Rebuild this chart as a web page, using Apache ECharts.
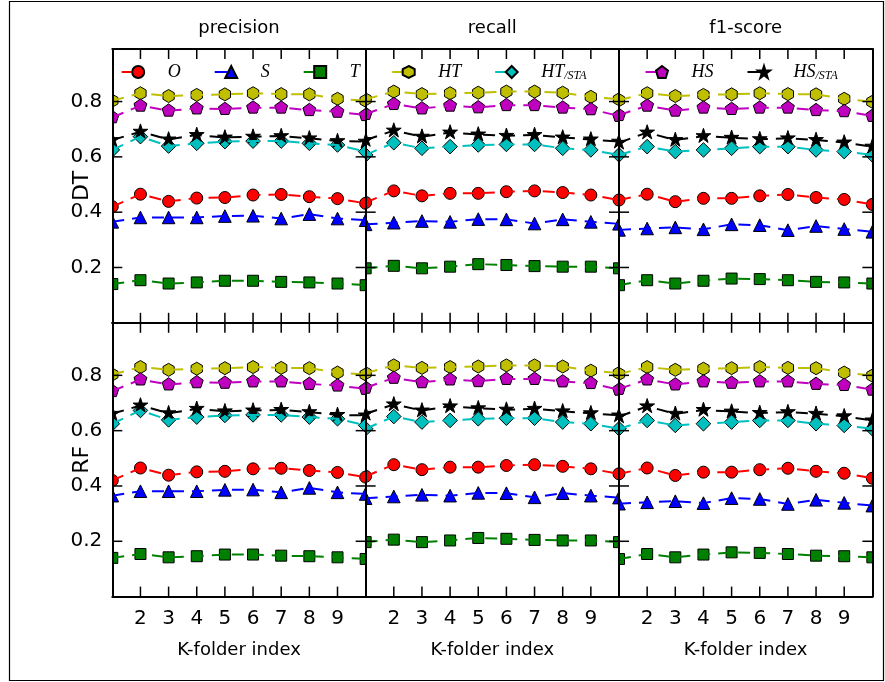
<!DOCTYPE html>
<html>
<head>
<meta charset="utf-8">
<script src="https://cdn.jsdelivr.net/npm/echarts@6/dist/echarts.min.js"></script>
<style>
  html, body { margin: 0; padding: 0; background: #fff; }
  #chart { width: 885px; height: 682px; }
</style>
</head>
<body>
<div id="chart"></div>
<script>
// ---- data ---------------------------------------------------------------
const folds = [1, 2, 3, 4, 5, 6, 7, 8, 9, 10];
const xTickLabels = [2, 3, 4, 5, 6, 7, 8, 9];
const yTickLabels = [0.2, 0.4, 0.6, 0.8];
const metrics = ['precision', 'recall', 'f1-score'];
const classifiers = ['DT', 'RF'];
const seriesNames = ['O', 'S', 'T', 'HT', 'HT/STA', 'HS', 'HS/STA'];

// precision per fold
const precisionO     = [0.420, 0.465, 0.439, 0.451, 0.453, 0.462, 0.464, 0.456, 0.449, 0.432];
const precisionS     = [0.365, 0.381, 0.381, 0.381, 0.386, 0.387, 0.377, 0.393, 0.377, 0.371];
const precisionT     = [0.140, 0.154, 0.142, 0.146, 0.152, 0.152, 0.148, 0.146, 0.142, 0.136];
const precisionHT    = [0.803, 0.830, 0.820, 0.824, 0.826, 0.830, 0.827, 0.826, 0.810, 0.803];
const precisionHTSTA = [0.625, 0.673, 0.639, 0.649, 0.655, 0.657, 0.657, 0.649, 0.643, 0.619];
const precisionHS    = [0.743, 0.785, 0.767, 0.775, 0.773, 0.778, 0.778, 0.769, 0.763, 0.751];
const precisionHSSTA = [0.661, 0.691, 0.663, 0.679, 0.670, 0.673, 0.675, 0.667, 0.657, 0.655];

// recall per fold
const recallO     = [0.435, 0.477, 0.459, 0.468, 0.468, 0.474, 0.477, 0.471, 0.462, 0.444];
const recallS     = [0.356, 0.362, 0.368, 0.365, 0.375, 0.374, 0.359, 0.374, 0.365, 0.358];
const recallT     = [0.197, 0.206, 0.197, 0.203, 0.212, 0.209, 0.205, 0.203, 0.203, 0.197];
const recallHT    = [0.808, 0.836, 0.827, 0.830, 0.832, 0.836, 0.836, 0.832, 0.817, 0.808];
const recallHTSTA = [0.607, 0.651, 0.631, 0.637, 0.643, 0.645, 0.645, 0.631, 0.625, 0.607];
const recallHS    = [0.755, 0.791, 0.775, 0.785, 0.779, 0.787, 0.787, 0.778, 0.772, 0.748];
const recallHSSTA = [0.661, 0.695, 0.673, 0.688, 0.681, 0.676, 0.679, 0.670, 0.663, 0.655];

// f1-score per fold
const f1O     = [0.444, 0.465, 0.438, 0.450, 0.450, 0.459, 0.464, 0.453, 0.446, 0.428];
const f1S     = [0.336, 0.341, 0.345, 0.338, 0.356, 0.353, 0.335, 0.350, 0.339, 0.329];
const f1T     = [0.136, 0.154, 0.142, 0.152, 0.160, 0.158, 0.154, 0.148, 0.146, 0.142];
const f1HT    = [0.805, 0.830, 0.820, 0.824, 0.826, 0.830, 0.827, 0.826, 0.810, 0.799];
const f1HTSTA = [0.607, 0.637, 0.619, 0.625, 0.631, 0.637, 0.637, 0.625, 0.619, 0.607];
const f1HS    = [0.751, 0.785, 0.767, 0.778, 0.773, 0.778, 0.778, 0.769, 0.765, 0.748];
const f1HSSTA = [0.651, 0.688, 0.661, 0.675, 0.669, 0.664, 0.667, 0.661, 0.652, 0.637];

// both classifiers produced the same scores
const scores = {
  precision: [precisionO, precisionS, precisionT, precisionHT, precisionHTSTA, precisionHS, precisionHSSTA],
  recall:    [recallO, recallS, recallT, recallHT, recallHTSTA, recallHS, recallHSSTA],
  'f1-score':[f1O, f1S, f1T, f1HT, f1HTSTA, f1HS, f1HSSTA]
};

// legend entries shown in each column of the top row
const legendGroups = [['O', 'S', 'T'], ['HT', 'HT/STA'], ['HS', 'HS/STA']];

// ---- styling ------------------------------------------------------------
const FONT = 'DejaVu Sans';
const colors = {
  'O': '#ff0000', 'S': '#0000ff', 'T': '#008000', 'HT': '#bfbf00',
  'HT/STA': '#00bfbf', 'HS': '#bf00bf', 'HS/STA': '#000000'
};
const shapes = {
  'O': 'circle', 'S': 'triangle', 'T': 'rect', 'HT': 'hexagon',
  'HT/STA': 'diamond', 'HS': 'pentagon', 'HS/STA': 'star'
};
// marker outlines on a unit radius
const UNIT = {
  triangle: [[0, -1], [1, 1], [-1, 1]],
  diamond: [[0, -1], [1, 0], [0, 1], [-1, 0]],
  hexagon: [[0, -1], [0.866, -0.5], [0.866, 0.5], [0, 1], [-0.866, 0.5], [-0.866, -0.5]],
  pentagon: [[0, -1], [0.951, -0.309], [0.588, 0.809], [-0.588, 0.809], [-0.951, -0.309]],
  star: [[0, -1], [0.2245, -0.309], [0.951, -0.309], [0.363, 0.118], [0.588, 0.809],
         [0, 0.382], [-0.588, 0.809], [-0.363, 0.118], [-0.951, -0.309], [-0.2245, -0.309]]
};
const RADIUS = { circle: 6, rect: 5.5, triangle: 6.3, diamond: 7.3, hexagon: 6.5, pentagon: 6.8, star: 7.8 };
const legendSymbols = {
  circle: 'circle', rect: 'rect', triangle: 'triangle', diamond: 'diamond',
  hexagon: 'path://M50 0 L93.3 25 L93.3 75 L50 100 L6.7 75 L6.7 25 Z',
  pentagon: 'path://M50 0 L97.55 34.55 L79.39 90.45 L20.61 90.45 L2.45 34.55 Z',
  star: 'path://M50 0 L61.2 34.5 L97.6 34.5 L68.2 55.9 L79.4 90.5 L50 69.1 L20.6 90.5 L31.8 55.9 L2.4 34.5 L38.8 34.5 Z'
};
const DASH = [12, 8];
const TICK_LEN = 10, TICK_W = 1.5;
const Y_MIN = 0, Y_MAX = 0.99, X_MIN = 1, X_MAX = 10;

// panel layout
const PANEL_LEFT = 112.3, PANEL_TOP = 49, PANEL_W = 253.35, PANEL_H = 273.8;

function markerRenderer(shape, color) {
  return function (params, api) {
    const p = api.coord([api.value(0), api.value(1)]);
    const style = { fill: color, stroke: '#000', lineWidth: 1 };
    const r = RADIUS[shape];
    if (shape === 'circle') {
      return { type: 'circle', shape: { cx: p[0], cy: p[1], r: r }, style: style };
    }
    if (shape === 'rect') {
      return { type: 'rect', shape: { x: p[0] - r, y: p[1] - r, width: 2 * r, height: 2 * r }, style: style };
    }
    return {
      type: 'polygon',
      shape: { points: UNIT[shape].map(q => [p[0] + q[0] * r, p[1] + q[1] * r]) },
      style: style
    };
  };
}

const frameLine = () => ({ show: true, onZero: false, lineStyle: { color: '#000', width: 2 } });
const grids = [], xAxes = [], yAxes = [], series = [], titles = [], legends = [];

classifiers.forEach((clf, row) => {
  metrics.forEach((metric, col) => {
    const g = grids.length;
    grids.push({
      left: PANEL_LEFT + col * PANEL_W, top: PANEL_TOP + row * PANEL_H,
      width: PANEL_W, height: PANEL_H
    });
    const xBase = { gridIndex: g, type: 'value', min: X_MIN, max: X_MAX, interval: 1, splitLine: { show: false }, axisTick: { show: false }, z: 10 };
    const yBase = { gridIndex: g, type: 'value', min: Y_MIN, max: Y_MAX, interval: 0.2, splitLine: { show: false }, axisTick: { show: false }, z: 10 };

    xAxes.push(Object.assign({}, xBase, {
      position: 'bottom', axisLine: frameLine(),
      axisLabel: {
        show: row === classifiers.length - 1, margin: 12, fontSize: 20, color: '#000', fontFamily: FONT,
        formatter: v => (xTickLabels.indexOf(v) >= 0 ? String(v) : '')
      },
      name: row === classifiers.length - 1 ? 'K-folder index' : '',
      nameLocation: 'middle', nameGap: 45, nameMoveOverlap: false,
      nameTextStyle: { fontSize: 18, color: '#000', fontFamily: FONT }
    }));
    xAxes.push(Object.assign({}, xBase, {
      position: 'top', axisLine: frameLine(), axisLabel: { show: false }
    }));
    yAxes.push(Object.assign({}, yBase, {
      position: 'left', axisLine: frameLine(),
      axisLabel: {
        show: col === 0, margin: 10, fontSize: 20, color: '#000', fontFamily: FONT,
        formatter: v => {
          const t = yTickLabels.find(t => Math.abs(t - v) < 1e-6);
          return t === undefined ? '' : t.toFixed(1);
        }
      },
      name: col === 0 ? clf : '', nameLocation: 'middle', nameGap: 19, nameMoveOverlap: false,
      nameTextStyle: { fontSize: 22, color: '#000', fontFamily: FONT }
    }));
    yAxes.push(Object.assign({}, yBase, {
      position: 'right', axisLine: frameLine(), axisLabel: { show: false }
    }));

    seriesNames.forEach((name, k) => {
      const vals = scores[metric][k];
      const pts = folds.map((f, i) => [f, vals[i]]);
      const color = colors[name];
      series.push({
        type: 'line', name: name, xAxisIndex: 2 * g, yAxisIndex: 2 * g,
        data: pts, symbol: legendSymbols[shapes[name]], showSymbol: false, clip: true,
        lineStyle: { color: color, width: 2, type: DASH },
        itemStyle: { color: color, borderColor: '#000', borderWidth: 1 },
        silent: true, animation: false, emphasis: { disabled: true }
      });
      series.push({
        type: 'custom', name: name, xAxisIndex: 2 * g, yAxisIndex: 2 * g,
        data: pts, encode: { x: 0, y: 1 }, clip: true,
        renderItem: markerRenderer(shapes[name], color),
        silent: true, animation: false
      });
    });

    if (row === 0) {
      titles.push({
        text: metric, left: PANEL_LEFT + (col + 0.5) * PANEL_W, top: 19, textAlign: 'center', padding: 0,
        textStyle: { fontSize: 18, fontWeight: 'normal', color: '#000', fontFamily: FONT }
      });
    }
  });
});

const legendLefts = [120.7, 391.2, 644.5];
legendGroups.forEach((names, col) => {
  legends.push({
    data: names, left: legendLefts[col], top: 63, padding: 0,
    orient: 'horizontal', itemWidth: 33, itemHeight: 15, itemGap: 33,
    lineStyle: { type: [13, 40], width: 2 },
    selectedMode: false,
    formatter: n => {
      const parts = n.split('/');
      return parts.length > 1 ? '{m|' + parts[0] + '}{s|/' + parts[1] + '}' : '{m|' + n + '}';
    },
    textStyle: {
      padding: [0, 0, 0, 8],
      rich: {
        m: { fontFamily: 'Liberation Serif', fontStyle: 'italic', fontSize: 18, color: '#000', lineHeight: 20 },
        s: { fontFamily: 'Liberation Serif', fontStyle: 'italic', fontSize: 12, color: '#000', lineHeight: 6, verticalAlign: 'bottom' }
      }
    }
  });
});

const outerFrame = {
  type: 'rect', silent: true, z: 100,
  shape: { x: 9.5, y: 1.5, width: 874, height: 679 },
  style: { fill: 'none', stroke: '#000', lineWidth: 1.2 }
};

const chart = echarts.init(document.getElementById('chart'), null, { renderer: 'canvas' });
chart.setOption({
  backgroundColor: '#fff',
  animation: false,
  textStyle: { fontFamily: FONT },
  title: titles,
  legend: legends,
  grid: grids,
  xAxis: xAxes,
  yAxis: yAxes,
  series: series,
  graphic: [outerFrame]
});

// inward tick marks on all four edges of every panel, placed through each panel's own axes
const tickMarks = [];
function bar(x, y, w, h) {
  return { type: 'rect', silent: true, z: 100, shape: { x: x, y: y, width: w, height: h }, style: { fill: '#000' } };
}
grids.forEach((gr, g) => {
  const finder = { xAxisIndex: 2 * g, yAxisIndex: 2 * g };
  const topLeft = chart.convertToPixel(finder, [X_MIN, Y_MAX]);
  const bottomRight = chart.convertToPixel(finder, [X_MAX, Y_MIN]);
  xTickLabels.forEach(v => {
    const px = chart.convertToPixel(finder, [v, Y_MIN])[0] - TICK_W / 2;
    tickMarks.push(bar(px, topLeft[1], TICK_W, TICK_LEN));
    tickMarks.push(bar(px, bottomRight[1] - TICK_LEN, TICK_W, TICK_LEN));
  });
  yTickLabels.forEach(v => {
    const py = chart.convertToPixel(finder, [X_MIN, v])[1] - TICK_W / 2;
    tickMarks.push(bar(topLeft[0], py, TICK_LEN, TICK_W));
    tickMarks.push(bar(bottomRight[0] - TICK_LEN, py, TICK_LEN, TICK_W));
  });
});
chart.setOption({ graphic: [outerFrame].concat(tickMarks) });
</script>
</body>
</html>
